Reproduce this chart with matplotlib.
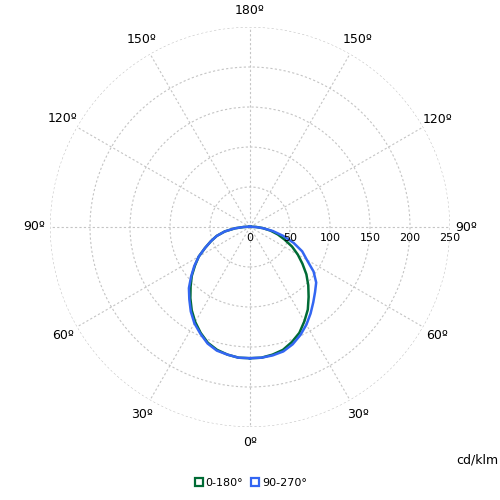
import numpy as np
import matplotlib
matplotlib.use('Agg')
import matplotlib.pyplot as plt
from matplotlib.lines import Line2D

# gamma angles (deg) and luminous intensity (cd/klm)
gamma = [0, 5, 10, 15, 20, 25, 30, 35, 40, 45, 50, 55, 60, 65, 70, 75, 80, 85, 90, 95, 100, 120, 150, 180]
c0 = [164, 164, 162, 159, 153, 146, 136, 126, 114, 103, 92, 80, 69, 58, 46, 36, 26, 16, 8, 3, 1, 1, 1, 1]
c180 = [164, 164, 162, 159, 154, 146, 137, 127, 116, 105, 95, 84, 74, 62, 52, 43, 32, 19, 8, 3, 1, 1, 1, 1]
c90 = [164, 164, 163, 161, 156, 149, 141, 132, 123, 115, 108, 97, 82, 72, 58, 43, 29, 16, 7, 2, 1, 1, 1, 1]
c270 = [164, 164, 162, 160, 155, 147, 139, 129, 118, 108, 96, 85, 74, 62, 52, 43, 32, 19, 8, 3, 1, 1, 1, 1]

rings = [50, 100, 150, 200, 250]
ang_ticks = [0, 30, 60, 90, 120, 150, 180]

green = '#006b35'
blue = '#3366f2'
grid_col = '#c4c4c4'


def closed_curve(right, left):
    g = np.radians(gamma)
    th = np.concatenate([g, -g[::-1]])
    r = np.concatenate([right, left[::-1]])
    return th, r


fig = plt.figure(figsize=(5, 5), dpi=100)
ax = fig.add_axes([0.1, 0.146, 0.8, 0.8], projection='polar')
ax.set_theta_zero_location('S')
ax.set_theta_direction(1)
ax.set_ylim(0, 250)

ax.set_xticks(np.radians(np.arange(0, 360, 30)))
ax.set_xticklabels([])
ax.set_yticks(rings)
ax.set_yticklabels([])
ax.grid(True, color=grid_col, linestyle=(0, (2, 2)), linewidth=0.8)
ax.spines['polar'].set_visible(False)

th, r = closed_curve(c0, c180)
ax.plot(th, r, color=green, lw=1.8)
th, r = closed_curve(c90, c270)
ax.plot(th, r, color=blue, lw=1.8)

# angle labels on both sides
for a in ang_ticks:
    for s in ([1] if a in (0, 180) else [1, -1]):
        ax.text(np.radians(a * s), 270, '%dº' % a, ha='center', va='center',
                fontsize=9, clip_on=False)

# radial labels along the right horizontal
for v in [0] + rings:
    ax.annotate(str(v), (np.pi / 2, v), textcoords='offset points',
                xytext=(0, -8), ha='center', va='center', fontsize=8)

fig.text(0.996, 0.08, 'cd/klm', ha='right', va='center', fontsize=9)

handles = [Line2D([], [], ls='none', marker='s', mfc='white', mec=green, mew=1.6, ms=5.5),
           Line2D([], [], ls='none', marker='s', mfc='white', mec=blue, mew=1.6, ms=5.5)]
fig.legend(handles, ['0-180°', '90-270°'], loc='center', bbox_to_anchor=(0.5, 0.034),
           ncol=2, frameon=False, fontsize=8, handletextpad=0.1, columnspacing=0.6,
           handlelength=1)

fig.savefig('out.png', dpi=100)
